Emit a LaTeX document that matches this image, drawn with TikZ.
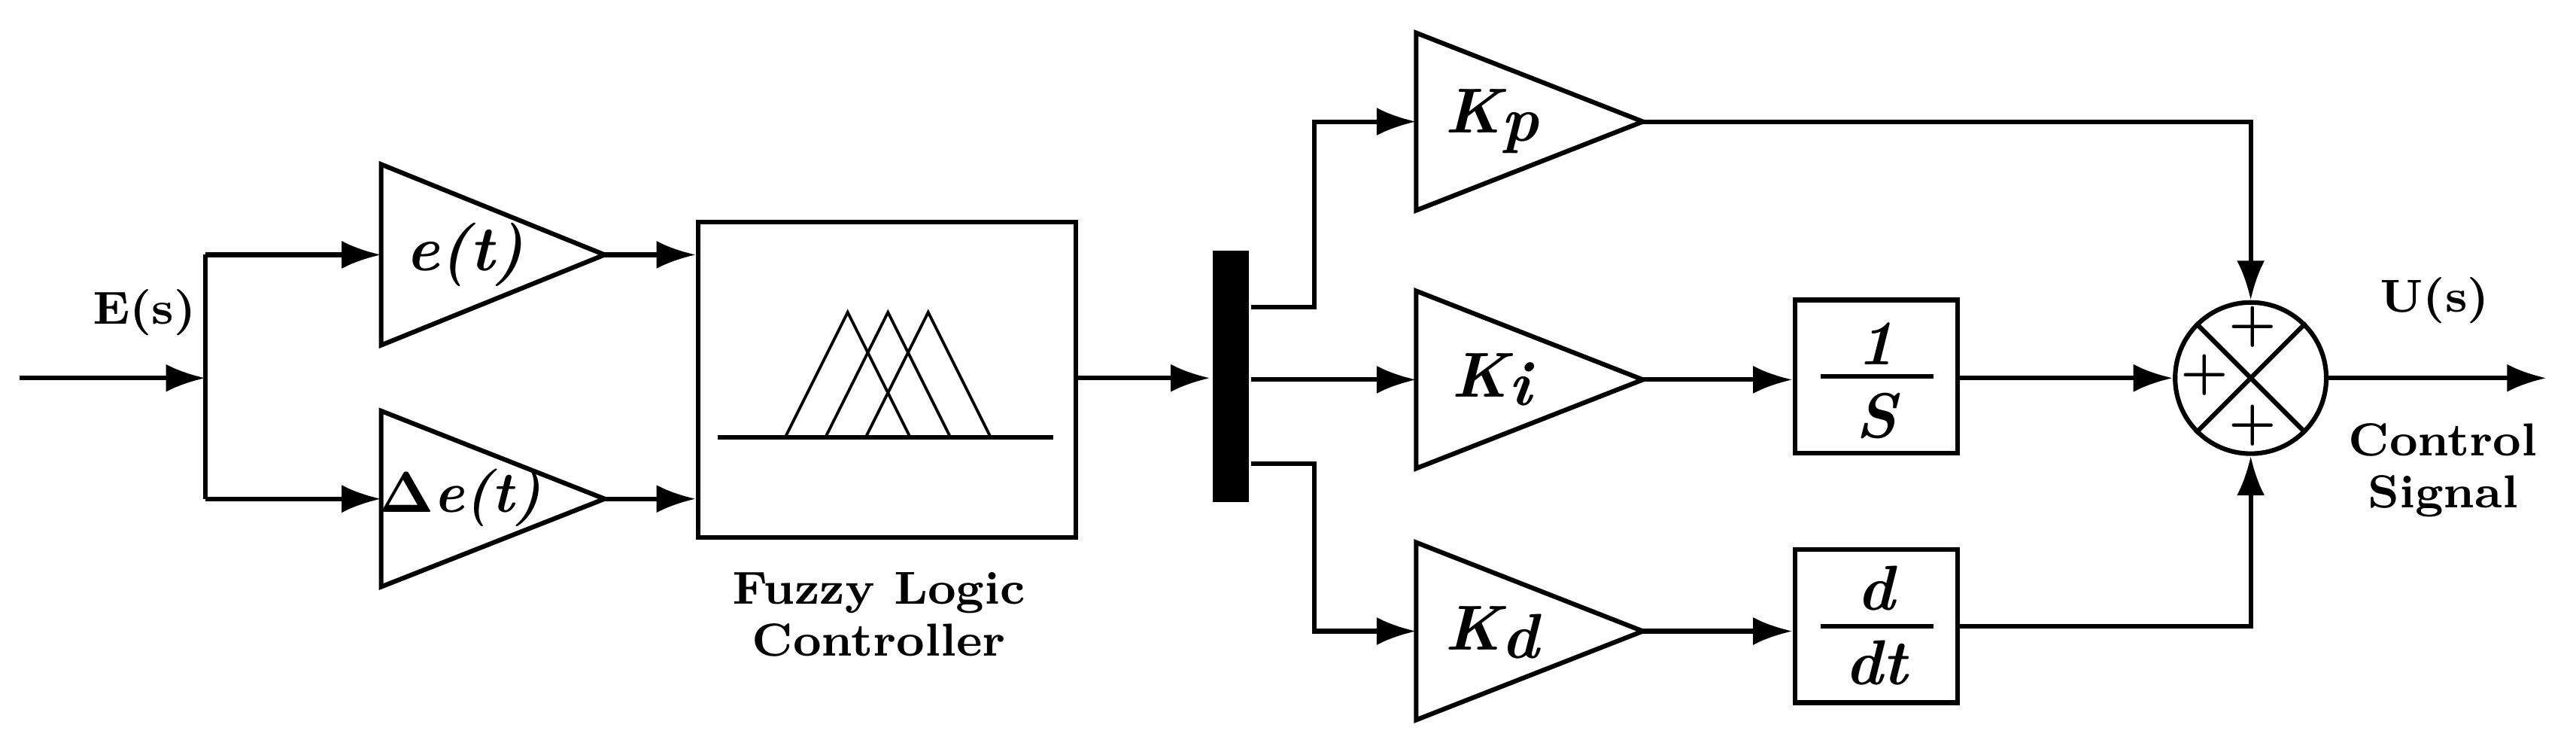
\documentclass[tikz,border=0pt]{standalone}
\usepackage{amsmath}
\usetikzlibrary{arrows.meta}
\begin{document}
\begin{tikzpicture}[x=0.1mm,y=-0.1mm,line width=0.8pt,
  arr/.style={-{Latex[length=2.4mm,width=1.7mm]}},
  lbl/.style={font=\fontsize{8}{9}\selectfont\bfseries},
  glbl/.style={font=\fontsize{11}{12}\selectfont\bfseries\itshape},
  pls/.style={font=\fontsize{9}{9}\selectfont\bfseries},
  box/.style={draw,minimum width=9.9mm,minimum height=9.3mm,inner sep=0pt}]
\useasboundingbox (0,0) rectangle (1568,459);
% gain triangle: name, left x, top y, bottom y, tip x
\newcommand\gainblk[5]{%
  \draw (#2,#3) -- (#5,{(#3+#4)/2}) -- (#2,#4) -- cycle;
  \coordinate (#1-in) at (#2,{(#3+#4)/2});
  \coordinate (#1-out) at (#5,{(#3+#4)/2});}
\gainblk{et}{232}{100}{210}{368}
\gainblk{de}{232}{250}{357}{368}
\gainblk{kp}{862}{20}{128}{1000}
\gainblk{ki}{862}{177}{285}{1000}
\gainblk{kd}{862}{330}{438}{1000}
\node[glbl] at (283,155) {e(t)};
\node[glbl,font=\fontsize{10}{12}\selectfont\bfseries\itshape] at (280,303) {$\boldsymbol{\Delta}$e(t)};
\node[glbl] at (908,74) {K\raisebox{-0.3ex}{p}};
\node[glbl] at (908,231) {K\raisebox{-0.3ex}{i}};
\node[glbl] at (908,385) {K\raisebox{-0.3ex}{d}};
% input and branch
\coordinate (in) at (12,230);
\coordinate (br) at (125,230);
\draw[arr] (in) -- (br);
\draw (br) -- (br |- et-in) coordinate (bt);
\draw (br) -- (br |- de-in) coordinate (bb);
\draw[arr] (bt) -- (et-in);
\draw[arr] (bb) -- (de-in);
\node[lbl] at (88,190) {E(s)};
% fuzzy controller
\node[draw,minimum width=23mm,minimum height=19.2mm,inner sep=0pt] (flc) at (540,231) {};
\draw[arr] (et-out) -- (et-out -| flc.west);
\draw[arr] (de-out) -- (de-out -| flc.west);
\draw (437,266) -- (641,266);
\foreach \p in {516,540.5,565}
  \draw[line width=0.5pt] (\p-38,266) -- (\p,190) -- (\p+38,266);
\node[lbl,align=center] at (535,374) {Fuzzy Logic\\Controller};
% bar
\node[fill,minimum width=2.2mm,minimum height=15.3mm,inner sep=0pt] (bar) at (749,229) {};
\draw[arr] (flc.east |- 0,230) -- (bar.west |- 0,230);
\draw[arr] (bar.east |- 0,187) -- (800,187) |- (kp-in);
\draw[arr] (bar.east |- ki-in) -- (ki-in);
\draw[arr] (bar.east |- 0,282) -- (800,282) |- (kd-in);
% integrator and derivative
\node[box] (int) at (1142,229) {};
\draw (1108,229) -- (1177,229);
\node[glbl] at (1142,209) {1};
\node[glbl] at (1142,253) {S};
\node[box] (der) at (1142,381) {};
\draw (1108,381) -- (1177,381);
\node[glbl] at (1142,358) {d};
\node[glbl] at (1142,403) {dt};
\draw[arr] (ki-out) -- (int.west |- ki-out);
\draw[arr] (kd-out) -- (der.west |- kd-out);
% summing junction
\node[draw,circle,minimum size=9.2mm,inner sep=0pt] (sum) at (1370,230) {};
\draw (sum.north west) -- (sum.south east) (sum.north east) -- (sum.south west);
\node[pls] at (1371,199) {+};
\node[pls] at (1342,228) {+};
\node[pls] at (1371,259) {+};
\draw[arr] (kp-out) -| (sum.north);
\draw[arr] (int.east |- sum.west) -- (sum.west);
\draw[arr] (der.east |- 0,381) -| (sum.south);
\coordinate (out) at (1550,230);
\draw[arr] (sum.east) -- (out);
\node[lbl] at (1482,183) {U(s)};
\node[lbl,align=center] at (1487,286) {Control\\Signal};
\end{tikzpicture}
\end{document}
